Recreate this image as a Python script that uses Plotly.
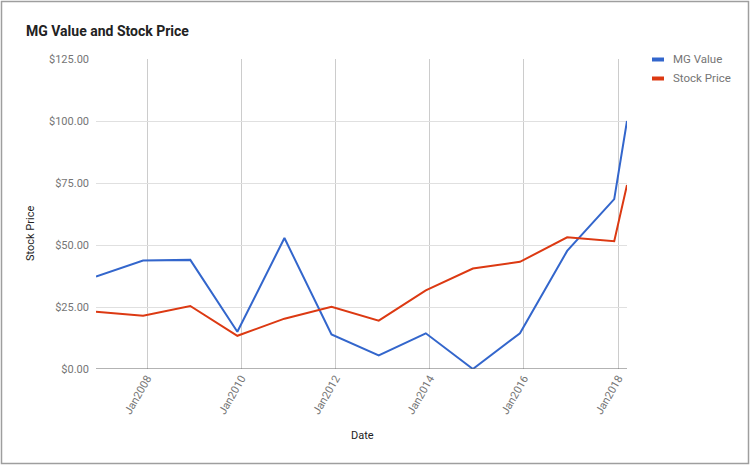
import plotly.graph_objects as go

dates = ["2006-12-01", "2007-12-01", "2008-12-01", "2009-12-01", "2010-12-01",
         "2011-12-01", "2012-12-01", "2013-12-01", "2014-12-01", "2015-12-01",
         "2016-12-01", "2017-12-01", "2018-03-10"]
mg_value = [37.3, 43.7, 44.0, 15.0, 52.8, 13.9, 5.5, 14.4, 0.0, 14.4, 47.6, 68.5, 100.0]
stock_price = [23.1, 21.5, 25.4, 13.4, 20.3, 25.1, 19.5, 31.7, 40.5, 43.2, 53.1, 51.5, 74.2]
y_ticks = [0, 25, 50, 75, 100, 125]
y_tick_labels = ["$0.00", "$25.00", "$50.00", "$75.00", "$100.00", "$125.00"]
x_ticks = ["2008-01-01", "2010-01-01", "2012-01-01", "2014-01-01", "2016-01-01", "2018-01-01"]
series_names = ["MG Value", "Stock Price"]
colors = ["#3366cc", "#dc3912"]

W, H = 752, 466
L, R, T, B = 96, 627, 59, 369

def px(x):
    return (x - L) / (R - L)

def py(y):
    return (B - y) / (B - T)

fig = go.Figure()
for name, vals, c in zip(series_names, [mg_value, stock_price], colors):
    fig.add_trace(go.Scatter(x=dates, y=vals, mode="lines", name=name,
                             line=dict(color=c, width=2), showlegend=False))

gray = "#757575"
fig.update_layout(
    width=W, height=H,
    margin=dict(l=L, r=W - R, t=T, b=H - B, pad=0),
    paper_bgcolor="white", plot_bgcolor="white",
    font=dict(family="Roboto", size=11, color=gray),
    title=dict(text="MG Value and Stock Price", x=26 / W, xanchor="left",
               xref="container", y=1 - 31 / H, yanchor="middle", yref="container",
               font=dict(family="Roboto", size=14, color="#222222", weight="bold")),
    xaxis=dict(type="date", range=[dates[0], dates[-1]], tickvals=x_ticks,
               tickformat="%b%Y", tickangle=-60, showgrid=True, gridcolor="#cccccc",
               gridwidth=1, zeroline=False, showline=False, ticks="",
               tickfont=dict(size=11, color=gray)),
    yaxis=dict(range=[0, 125], tickvals=y_ticks, ticktext=y_tick_labels,
               showgrid=True, gridcolor="#e0e0e0", gridwidth=1, zeroline=False,
               showline=False, ticks="", ticklabelstandoff=6,
               tickfont=dict(size=11, color=gray)),
)

# baseline
fig.add_shape(type="line", xref="paper", yref="y", x0=0, x1=1, y0=0, y1=0,
              line=dict(color="#666666", width=1))

# axis titles
fig.add_annotation(text="Date", xref="paper", yref="paper", x=px(362), y=py(435),
                   showarrow=False, font=dict(size=11, color="#222222"),
                   xanchor="center", yanchor="middle")
fig.add_annotation(text="Stock Price", xref="paper", yref="paper", x=px(31), y=py(234),
                   showarrow=False, textangle=-90, font=dict(size=11, color="#222222"),
                   xanchor="center", yanchor="middle")

# legend
for i, (name, c) in enumerate(zip(series_names, colors)):
    yy = 59.5 + i * 19
    fig.add_shape(type="line", xref="paper", yref="paper", x0=px(652), x1=px(664),
                  y0=py(yy), y1=py(yy), line=dict(color=c, width=4))
    fig.add_annotation(text=name, xref="paper", yref="paper", x=px(671), y=py(yy),
                       showarrow=False, xanchor="left", yanchor="middle",
                       font=dict(size=11.5, color=gray))

# outer frame
fig.add_shape(type="rect", xref="paper", yref="paper", x0=px(1.5), x1=px(748.5),
              y0=py(463.5), y1=py(1.5), line=dict(color="#9e9e9e", width=1.5),
              layer="above")

fig.write_html("out.html", config={"displayModeBar": False},
               post_script="document.body.style.margin='0';document.body.style.overflow='hidden';")
